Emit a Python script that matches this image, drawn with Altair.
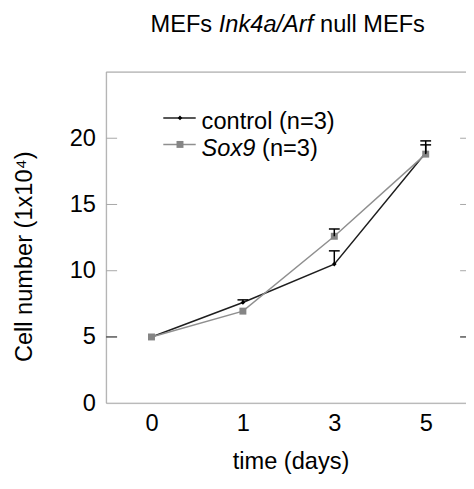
import altair as alt
import pandas as pd

# ---- data ----
days = ["0", "1", "3", "5"]
groups = ["control", "Sox9"]
control_mean = [5.0, 7.6, 10.5, 18.9]
control_err = [0.0, 0.2, 1.0, 0.9]
sox9_mean = [5.0, 6.95, 12.6, 18.8]
sox9_err = [0.0, 0.0, 0.55, 0.7]
y_ticks = [0, 5, 10, 15, 20]
inner_ticks = [5, 10, 15, 20]
title_parts = ["MEFs", "Ink4a/Arf", "null MEFs"]
legend_labels = ["control (n=3)", "Sox9", "(n=3)"]
x_title = "time (days)"
y_title = "Cell number (1x10\u2074)"

FONT = "Liberation Sans"
FS = 24
W, H = 366, 337

rows = []
for d, m, e in zip(days, control_mean, control_err):
    rows.append({"day": d, "group": "control", "mean": m, "err": e})
for d, m, e in zip(days, sox9_mean, sox9_err):
    rows.append({"day": d, "group": "Sox9", "mean": m, "err": e})
df = pd.DataFrame(rows)
df["top"] = df["mean"] + df["err"]

x_enc = alt.X("day:O", sort=days,
              scale=alt.Scale(type="point", range=[46, 325], padding=0),
              axis=alt.Axis(title=None, labelAngle=0, ticks=False, tickSize=0,
                            domain=False, grid=False, labelPadding=9,
                            labelFont=FONT, labelFontSize=FS, labelColor="#000000"))
y_scale = alt.Scale(domain=[0, 25], nice=False, zero=True)
y_axis = alt.Axis(title=None, values=y_ticks, ticks=False, tickSize=0, domain=False,
                  grid=False, labelPadding=11, labelFont=FONT, labelFontSize=FS,
                  labelColor="#000000")

base = alt.Chart(df)
ctrl = base.transform_filter(alt.datum.group == "control")
sox = base.transform_filter(alt.datum.group == "Sox9")

ctrl_line = ctrl.mark_line(color="#1e1e1e", strokeWidth=1.5).encode(
    x=x_enc, y=alt.Y("mean:Q", scale=y_scale, axis=y_axis))
ctrl_pts = ctrl.mark_point(shape="diamond", filled=True, size=22, color="#000000", opacity=1).encode(
    x=x_enc, y=alt.Y("mean:Q", scale=y_scale, axis=y_axis))
sox_line = sox.mark_line(color="#8f8f8f", strokeWidth=1.5).encode(
    x=x_enc, y=alt.Y("mean:Q", scale=y_scale, axis=y_axis))
sox_pts = sox.mark_point(shape="square", filled=True, size=50, color="#858585", opacity=1).encode(
    x=x_enc, y=alt.Y("mean:Q", scale=y_scale, axis=y_axis))

err_base = base.transform_filter(alt.datum.err > 0)
err_rule = err_base.mark_rule(color="#000000", strokeWidth=1.5).encode(
    x=x_enc, y=alt.Y("mean:Q", scale=y_scale, axis=y_axis), y2="top:Q")
err_cap = err_base.mark_tick(color="#000000", thickness=1.5, size=11, orient="horizontal", opacity=1).encode(
    x=x_enc, y=alt.Y("top:Q", scale=y_scale, axis=y_axis))

one = alt.Data(values=[{}])
BORDER = "#a6a6a6"
top_border = alt.Chart(one).mark_rule(color=BORDER, strokeWidth=1).encode(
    x=alt.value(0), x2=alt.value(W), y=alt.value(0))
bottom_border = alt.Chart(one).mark_rule(color=BORDER, strokeWidth=1).encode(
    x=alt.value(0), x2=alt.value(W), y=alt.value(H))
left_border = alt.Chart(one).mark_rule(color=BORDER, strokeWidth=1).encode(
    x=alt.value(0), y=alt.value(0), y2=alt.value(H))

tick_df = pd.DataFrame({"v": inner_ticks})
tick_color = alt.condition(alt.datum.v == 5, alt.value("#000000"), alt.value(BORDER))
left_ticks = alt.Chart(tick_df).mark_rule(strokeWidth=1).encode(
    x=alt.value(0), x2=alt.value(11), y=alt.Y("v:Q", scale=y_scale, axis=y_axis), color=tick_color)
right_ticks = alt.Chart(tick_df).mark_rule(strokeWidth=1).encode(
    x=alt.value(360), x2=alt.value(W), y=alt.Y("v:Q", scale=y_scale, axis=y_axis), color=tick_color)


def txt(s, x, y, size=FS, style="normal", angle=0, align="left"):
    return alt.Chart(one).mark_text(text=s, font=FONT, fontSize=size, fontStyle=style,
                                    align=align, baseline="alphabetic", angle=angle,
                                    color="#000000").encode(x=alt.value(x), y=alt.value(y))


# title pieces (24px Arial metrics)
t1 = txt(title_parts[0], 45, -41, size=24)
t2 = txt(title_parts[1], 114.5, -41, size=24, style="italic")
t3 = txt(title_parts[2], 217.5, -41, size=24)

# legend
leg_ctrl_line = alt.Chart(one).mark_rule(color="#1e1e1e", strokeWidth=1.5).encode(
    x=alt.value(58), x2=alt.value(91), y=alt.value(46.7))
leg_ctrl_pt = alt.Chart(one).mark_point(shape="diamond", filled=True, size=22, color="#000000", opacity=1).encode(
    x=alt.value(75), y=alt.value(46.7))
leg_sox_line = alt.Chart(one).mark_rule(color="#8f8f8f", strokeWidth=1.5).encode(
    x=alt.value(58), x2=alt.value(91), y=alt.value(73.7))
leg_sox_pt = alt.Chart(one).mark_point(shape="square", filled=True, size=50, color="#858585", opacity=1).encode(
    x=alt.value(75), y=alt.value(73.7))
l1 = txt(legend_labels[0], 97, 58)
l2 = txt(legend_labels[1], 97, 85, style="italic")
l3 = txt(legend_labels[2], 158.5, 85)

xt = txt(x_title, 188, 404, align="center")
yt = alt.Chart(one).mark_text(text=y_title, font=FONT, fontSize=FS, align="center",
                              baseline="middle", angle=270, color="#000000").encode(
    x=alt.value(-83), y=alt.value(188))

chart = alt.layer(
    ctrl_line, sox_line, ctrl_pts, sox_pts, err_rule, err_cap,
    top_border, bottom_border, left_border, left_ticks, right_ticks,
    t1, t2, t3, leg_ctrl_line, leg_ctrl_pt, leg_sox_line, leg_sox_pt, l1, l2, l3, xt, yt,
).properties(
    width=W, height=H,
    autosize=alt.AutoSizeParams(type="none"),
    padding={"left": 100, "top": 61, "right": 0, "bottom": 73},
).configure_view(stroke=None).configure(font=FONT)

chart.save("out.html", embed_options={"renderer": "svg", "actions": False})
